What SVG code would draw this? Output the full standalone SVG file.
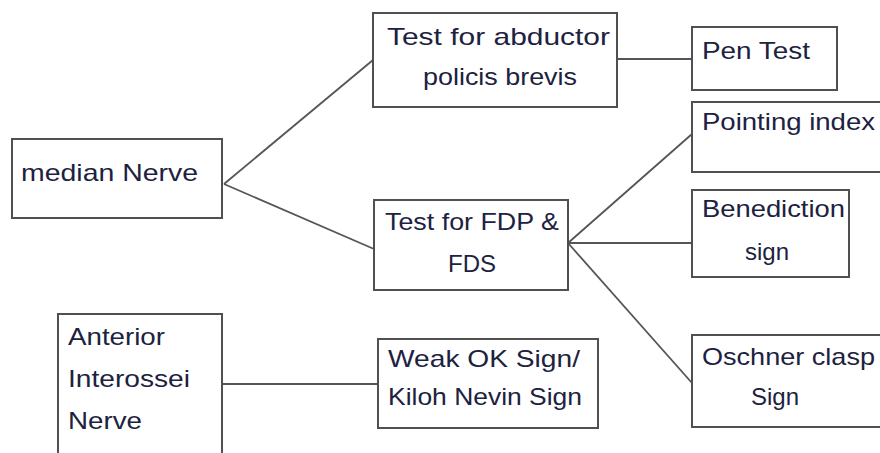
<svg xmlns="http://www.w3.org/2000/svg" width="880" height="453" viewBox="0 0 880 453">
<style>
.box{fill:#fff;stroke:#505050;stroke-width:2}
.ln{stroke:#555;stroke-width:1.8;fill:none}
text{font-family:"Liberation Sans","DejaVu Sans",sans-serif;font-size:24px;fill:#1c2240}
</style>
<rect width="880" height="453" fill="#fff"/>
<g id="connectors">
<line class="ln" x1="224" y1="184" x2="373" y2="60"/>
<line class="ln" x1="224" y1="184" x2="374" y2="249"/>
<line class="ln" x1="617" y1="59" x2="692" y2="59"/>
<line class="ln" x1="568" y1="243" x2="692" y2="134"/>
<line class="ln" x1="568" y1="243" x2="692" y2="243"/>
<line class="ln" x1="568" y1="243" x2="692" y2="383"/>
<line class="ln" x1="223" y1="384" x2="378" y2="384"/>
</g>
<g id="median">
<rect class="box" x="12" y="139" width="210" height="79"/>
<text x="21" y="181" textLength="177" lengthAdjust="spacingAndGlyphs">median Nerve</text>
</g>
<g id="abductor">
<rect class="box" x="373" y="13" width="244" height="94"/>
<text x="387" y="45" textLength="223" lengthAdjust="spacingAndGlyphs">Test for abductor</text>
<text x="423" y="85" textLength="154" lengthAdjust="spacingAndGlyphs">policis brevis</text>
</g>
<g id="pen">
<rect class="box" x="692" y="27" width="145" height="63"/>
<text x="702" y="59" textLength="108" lengthAdjust="spacingAndGlyphs">Pen Test</text>
</g>
<g id="pointing">
<rect class="box" x="692" y="102" width="196" height="70"/>
<text x="702" y="130" textLength="173" lengthAdjust="spacingAndGlyphs">Pointing index</text>
</g>
<g id="benediction">
<rect class="box" x="692" y="190" width="157" height="87"/>
<text x="702" y="217" textLength="143" lengthAdjust="spacingAndGlyphs">Benediction</text>
<text x="745" y="260">sign</text>
</g>
<g id="fdp">
<rect class="box" x="374" y="200" width="194" height="90"/>
<text x="385" y="230" textLength="174" lengthAdjust="spacingAndGlyphs">Test for FDP &amp;</text>
<text x="448" y="272">FDS</text>
</g>
<g id="oschner">
<rect class="box" x="692" y="335" width="196" height="92"/>
<text x="702" y="365" textLength="173" lengthAdjust="spacingAndGlyphs">Oschner clasp</text>
<text x="751" y="405">Sign</text>
</g>
<g id="anterior">
<rect class="box" x="58" y="314" width="164" height="150"/>
<text x="68" y="345" textLength="97" lengthAdjust="spacingAndGlyphs">Anterior</text>
<text x="68" y="387" textLength="122" lengthAdjust="spacingAndGlyphs">Interossei</text>
<text x="68" y="429" textLength="74" lengthAdjust="spacingAndGlyphs">Nerve</text>
</g>
<g id="weakok">
<rect class="box" x="378" y="339" width="220" height="89"/>
<text x="388" y="367" textLength="192" lengthAdjust="spacingAndGlyphs">Weak OK Sign/</text>
<text x="388" y="405" textLength="194" lengthAdjust="spacingAndGlyphs">Kiloh Nevin Sign</text>
</g>
</svg>
